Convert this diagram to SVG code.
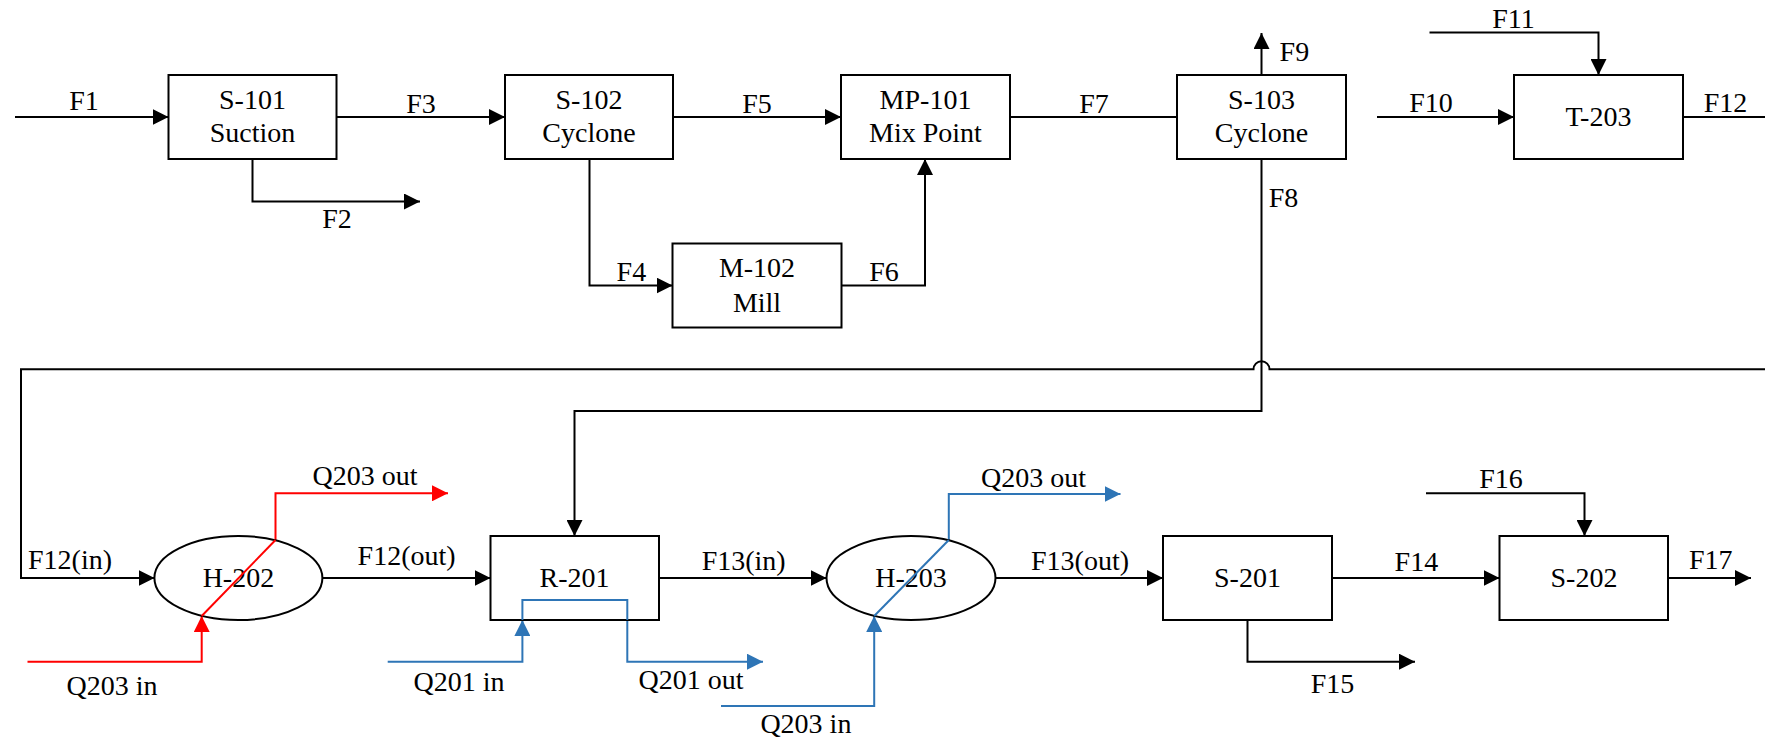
<svg xmlns="http://www.w3.org/2000/svg" width="1765" height="743" viewBox="0 0 1765 743">
<style>
text{font-family:"Liberation Serif","Times New Roman",serif;font-size:28px;fill:#000;text-anchor:middle}
.s{text-anchor:start}
.box{fill:#fff;stroke:#000;stroke-width:2}
.ln{fill:none;stroke:#000;stroke-width:2}
.red{fill:none;stroke:#FF0000;stroke-width:2}
.blue{fill:none;stroke:#2E75B6;stroke-width:2}
</style>
<defs>
<marker id="ak" markerUnits="userSpaceOnUse" markerWidth="16" markerHeight="16" refX="16" refY="8" orient="auto"><path d="M0,0 L16,8 L0,16 z" fill="#000"/></marker>
<marker id="ar" markerUnits="userSpaceOnUse" markerWidth="16" markerHeight="16" refX="16" refY="8" orient="auto"><path d="M0,0 L16,8 L0,16 z" fill="#FF0000"/></marker>
<marker id="ab" markerUnits="userSpaceOnUse" markerWidth="16" markerHeight="16" refX="16" refY="8" orient="auto"><path d="M0,0 L16,8 L0,16 z" fill="#2E75B6"/></marker>
</defs>
<rect width="1765" height="743" fill="#fff"/>
<g id="connectors">
<path class="ln" d="M15,117 H168.5" marker-end="url(#ak)"/>
<path class="ln" d="M336.5,117 H505" marker-end="url(#ak)"/>
<path class="ln" d="M252.5,159 V201.5 H420" marker-end="url(#ak)"/>
<path class="ln" d="M673,117 H841" marker-end="url(#ak)"/>
<path class="ln" d="M589.5,159 V285.5 H672.5" marker-end="url(#ak)"/>
<path class="ln" d="M841.5,285.5 H925 V159" marker-end="url(#ak)"/>
<path class="ln" d="M1010,117 H1177"/>
<path class="ln" d="M1261.5,75 V33" marker-end="url(#ak)"/>
<path class="ln" d="M1377,117 H1514" marker-end="url(#ak)"/>
<path class="ln" d="M1429.5,32.5 H1598.5 V75" marker-end="url(#ak)"/>
<path class="ln" d="M1683,117 H1765"/>
<path class="ln" d="M1765,369.3 H1269.5 A8,8 0 0 0 1253.5,369.3 H21 V578 H154.5" marker-end="url(#ak)"/>
<path class="ln" d="M1261.5,159 V411 H574.5 V536" marker-end="url(#ak)"/>
<path class="ln" d="M322.5,578 H490.5" marker-end="url(#ak)"/>
<path class="ln" d="M659,578 H826.5" marker-end="url(#ak)"/>
<path class="ln" d="M995.5,578 H1163" marker-end="url(#ak)"/>
<path class="ln" d="M1332,578 H1499.5" marker-end="url(#ak)"/>
<path class="ln" d="M1668,578 H1751" marker-end="url(#ak)"/>
<path class="ln" d="M1426,493.3 H1584.5 V536" marker-end="url(#ak)"/>
<path class="ln" d="M1247.5,620 V661.7 H1415" marker-end="url(#ak)"/>
<path class="red" d="M27.5,661.7 H201.7 V616" marker-end="url(#ar)"/>
<path class="red" d="M201.7,616 L275.5,540 V493.3 H448" marker-end="url(#ar)"/>
<path class="blue" d="M387.7,661.7 H522.4 V620" marker-end="url(#ab)"/>
<path class="blue" d="M522.4,620 V600 H627.3 V661.7 H763" marker-end="url(#ab)"/>
<path class="blue" d="M721,706 H874.2 V616" marker-end="url(#ab)"/>
<path class="blue" d="M874.2,616 L948.8,540 V494 H1120.5" marker-end="url(#ab)"/>
</g>
<g id="S-101"><rect class="box" x="168.5" y="75" width="168" height="84"/><text x="252.5" y="109">S-101</text><text x="252.5" y="142.3">Suction</text></g>
<g id="S-102"><rect class="box" x="505" y="75" width="168" height="84"/><text x="589" y="109">S-102</text><text x="589" y="142.3">Cyclone</text></g>
<g id="MP-101"><rect class="box" x="841" y="75" width="169" height="84"/><text x="925.5" y="109">MP-101</text><text x="925.5" y="142.3">Mix Point</text></g>
<g id="M-102"><rect class="box" x="672.5" y="243.5" width="169" height="84"/><text x="757" y="277.3">M-102</text><text x="757" y="311.7">Mill</text></g>
<g id="S-103"><rect class="box" x="1177" y="75" width="169" height="84"/><text x="1261.5" y="109">S-103</text><text x="1261.5" y="142.3">Cyclone</text></g>
<g id="T-203"><rect class="box" x="1514" y="75" width="169" height="84"/><text x="1598.5" y="126">T-203</text></g>
<g id="H-202"><ellipse class="box" cx="238.4" cy="578" rx="84" ry="42"/><text x="238.4" y="587.3">H-202</text></g>
<g id="R-201"><rect class="box" x="490.5" y="536" width="168.5" height="84"/><text x="574.5" y="587.3">R-201</text></g>
<g id="H-203"><ellipse class="box" cx="911" cy="578" rx="84.5" ry="42"/><text x="911" y="587.3">H-203</text></g>
<g id="S-201"><rect class="box" x="1163" y="536" width="169" height="84"/><text x="1247.5" y="587.3">S-201</text></g>
<g id="S-202"><rect class="box" x="1499.5" y="536" width="168.5" height="84"/><text x="1584" y="587.3">S-202</text></g>
<g id="heat-lines-over">
<path class="red" d="M201.7,616 L275.5,540"/>
<path class="blue" d="M874.2,616 L948.8,540"/>
<path class="blue" d="M522.4,620 V600 H627.3 V620"/>
</g>
<g id="labels">
<text x="84" y="110">F1</text>
<text x="421" y="112.7">F3</text>
<text x="337" y="228.3">F2</text>
<text x="757" y="112.7">F5</text>
<text x="1094" y="112.7">F7</text>
<text x="631.4" y="280.7">F4</text>
<text x="884" y="280.7">F6</text>
<text class="s" x="1279.6" y="61">F9</text>
<text class="s" x="1268.7" y="207.3">F8</text>
<text x="1431" y="112.3">F10</text>
<text x="1513.5" y="27.7">F11</text>
<text x="1725.5" y="112.3">F12</text>
<text x="70" y="569.3">F12(in)</text>
<text x="406.6" y="565.3">F12(out)</text>
<text x="743.7" y="570">F13(in)</text>
<text x="1080" y="570">F13(out)</text>
<text x="1416.4" y="571">F14</text>
<text x="1710.7" y="569.3">F17</text>
<text x="1501" y="487.7">F16</text>
<text x="1332.5" y="693.3">F15</text>
<text x="365" y="485">Q203 out</text>
<text x="112" y="695">Q203 in</text>
<text x="459" y="690.7">Q201 in</text>
<text x="691" y="689.3">Q201 out</text>
<text x="1033.5" y="486.7">Q203 out</text>
<text x="805.9" y="733.3">Q203 in</text>
</g>
</svg>
